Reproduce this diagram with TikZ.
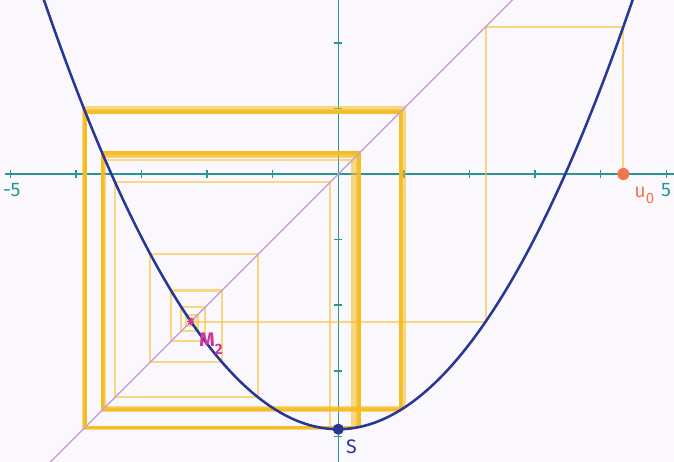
\documentclass[tikz,border=0pt]{standalone}
\usepackage{fontspec}
\setmainfont{Fira Sans}
\definecolor{bgc}{RGB}{250,248,252}
\definecolor{axc}{RGB}{38,150,150}
\definecolor{crv}{RGB}{40,55,150}
\definecolor{dgc}{RGB}{200,160,212}
\definecolor{cwc}{RGB}{245,188,35}
\definecolor{u0c}{RGB}{242,117,75}
\definecolor{m2c}{RGB}{205,55,155}
\def\Ap{0.325}
\def\Cp{-3.89}
\def\Dp{-0.0033}
\def\Nit{100}
\begin{document}
\begin{tikzpicture}[x=1cm,y=1cm,
  axis/.style={axc, line width=0.65pt},
  web/.style={cwc, line width=0.95pt, opacity=0.55},
  curve/.style={crv, line width=1.1pt},
  diag/.style={dgc, line width=0.6pt},
  lbl/.style={font=\fontsize{8.5}{10}\selectfont, inner sep=0pt}]
\fill[bgc] (-5.157,-4.390) rectangle (5.117,2.652);
\useasboundingbox (-5.157,-4.390) rectangle (5.117,2.652);
\edef\Pfix{\fpeval{(1 - sqrt(1 - 4*\Ap*(\Cp)))/(2*\Ap)}}
\edef\Utwo{\fpeval{\Pfix + (\Dp)}}
\edef\Uone{\fpeval{sqrt((\Utwo - (\Cp))/\Ap)}}
\edef\Uzero{\fpeval{sqrt((\Uone - (\Cp))/\Ap)}}
\coordinate (O) at (0,0);
\coordinate (U0) at (\Uzero,0);
\coordinate (S) at (0,\Cp);
\coordinate (M2) at (\Pfix,\Pfix);
\begin{scope}
\clip (-5.157,-4.390) rectangle (5.117,2.652);
% axes
\draw[axis] (-5.08,0) -- (5.117,0);
\draw[axis] (0,-4.390) -- (0,2.652);
\foreach \t in {-5,-4,-3,-2,-1,1,2,3,4,5}
  \draw[axis] (\t,-0.06) -- (\t,0.06);
\foreach \t in {-4,-3,-2,-1,1,2}
  \draw[axis] (-0.06,\t) -- (0.06,\t);
% cobweb
\draw[web] (U0) -- (\Uzero,\Uone) -- (\Uone,\Uone);
\xdef\xcur{\Uone}
\foreach \k in {1,...,\Nit}{
  \xdef\ynext{\fpeval{\Ap*(\xcur)*(\xcur) + (\Cp)}}
  \draw[web] (\xcur,\xcur) -- (\xcur,\ynext) -- (\ynext,\ynext);
  \xdef\xcur{\ynext}
}
% diagonal and curve
\draw[diag] (-5.2,-5.2) -- (2.8,2.8);
\draw[curve] plot[domain=-4.7:4.7, samples=240] (\x, {\Ap*\x*\x + \Cp});
\end{scope}
% fixed point marker
\draw[m2c, line width=0.8pt] (M2) ++(-0.055,0) -- ++(0.11,0);
\draw[m2c, line width=0.8pt] (M2) ++(0,-0.055) -- ++(0,0.11);
\draw[m2c, line width=0.5pt] (M2) ++(-0.04,-0.04) -- ++(0.08,0.08);
\draw[m2c, line width=0.5pt] (M2) ++(-0.04,0.04) -- ++(0.08,-0.08);
% dots
\fill[u0c] (U0) circle (0.092);
\fill[crv] (S) circle (0.085);
% labels
\node[lbl, axc] (lm5) at (-4.977,-0.244) {-5};
\node[lbl, axc] (lp5) at (4.995,-0.244) {5};
\node[lbl, u0c, anchor=base west] (lu0) at (4.507,-0.351) {u\raisebox{-3pt}{\fontsize{6.5}{7}\selectfont 0}};
\node[lbl, crv, anchor=base west] (lS) at (0.111,-4.255) {S};
\node[lbl, m2c, anchor=base west, font=\fontsize{8.5}{10}\selectfont\bfseries] (lM2) at (-2.125,-2.633) {M\raisebox{-3.3pt}{\fontsize{6.5}{7}\selectfont 2}};
\end{tikzpicture}
\end{document}
